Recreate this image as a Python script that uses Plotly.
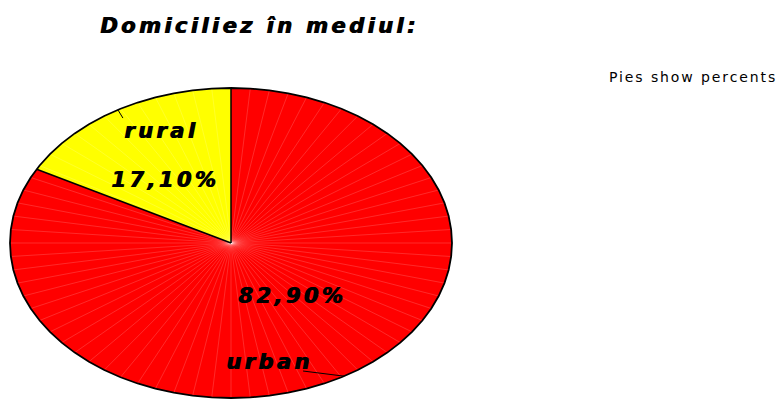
import numpy as np
import plotly.graph_objects as go

# Data
labels = ["rural", "urban"]
percents = [17.10, 82.90]
colors = ["#FFFF00", "#FF0000"]
value_texts = ["17,10%", "82,90%"]
title_text = "Domiciliez în mediul:"
note_text = "Pies show percents"

# Label anchor positions in unit-pie coordinates (name, value)
name_pos = [(-0.317, 0.723), (0.172, -0.768)]
value_pos = [(-0.299, 0.406), (0.276, -0.342)]
# Inner end of each leader line
leader_end = [(-0.489, 0.806), (0.326, -0.826)]

W, H = 778, 399
CX, CY = 231, 243          # pie centre in pixels
RX, RY = 221, 155          # pie radii in pixels (elliptical look)
STEP = 5.0                 # facet size of the pie outline, degrees
START = 90.0               # first slice starts at 12 o'clock, runs counter-clockwise


def pt(deg):
    r = np.radians(deg)
    return np.cos(r), np.sin(r)


def arc(a0, a1):
    grid = np.arange(np.ceil(a0 / STEP) * STEP, a1, STEP)
    angs = [a0] + [g for g in grid if a0 < g < a1] + [a1]
    return angs


fig = go.Figure()

# slice boundaries (degrees)
bounds = [START]
for p in percents:
    bounds.append(bounds[-1] + p / 100.0 * 360.0)

# filled slices
for i, lab in enumerate(labels):
    angs = arc(bounds[i], bounds[i + 1])
    xs = [0.0] + [pt(a)[0] for a in angs] + [0.0]
    ys = [0.0] + [pt(a)[1] for a in angs] + [0.0]
    fig.add_trace(go.Scatter(x=xs, y=ys, mode="lines", fill="toself",
                             fillcolor=colors[i], line=dict(width=0),
                             hoverinfo="skip", showlegend=False))

# faint radial shading lines
rx_, ry_ = [], []
for a in np.arange(START, START + 360, STEP):
    if any(abs(a - b) < 0.5 for b in bounds):
        continue
    x, y = pt(a)
    rx_ += [0, x, None]
    ry_ += [0, y, None]
fig.add_trace(go.Scatter(x=rx_, y=ry_, mode="lines",
                         line=dict(color="rgba(255,255,255,0.28)", width=0.6),
                         hoverinfo="skip", showlegend=False))

# slice separators
for b in bounds[:-1]:
    x, y = pt(b)
    fig.add_trace(go.Scatter(x=[0, x], y=[0, y], mode="lines",
                             line=dict(color="black", width=1.5),
                             hoverinfo="skip", showlegend=False))

# outline
oangs = []
for i in range(len(labels)):
    oangs += arc(bounds[i], bounds[i + 1])
fig.add_trace(go.Scatter(x=[pt(a)[0] for a in oangs], y=[pt(a)[1] for a in oangs],
                         mode="lines", line=dict(color="black", width=1.8),
                         hoverinfo="skip", showlegend=False))

# leader lines from the middle of each slice's rim toward its label
for i in range(len(labels)):
    mid = (bounds[i] + bounds[i + 1]) / 2
    x, y = pt(mid)
    fig.add_trace(go.Scatter(x=[x, leader_end[i][0]], y=[y, leader_end[i][1]],
                             mode="lines", line=dict(color="black", width=1),
                             hoverinfo="skip", showlegend=False))

heavy = "1px 0px 0px black"
lab_font = dict(family="DejaVu Sans", size=21, color="black", weight="bold",
                style="italic", shadow=heavy)


def spaced(t, px):
    return f"<span style='letter-spacing:{px}px'>{t}</span>"


for i, lab in enumerate(labels):
    fig.add_annotation(x=name_pos[i][0], y=name_pos[i][1], text=spaced(lab, 3.4),
                       showarrow=False, font=lab_font, xanchor="center", yanchor="middle")
    fig.add_annotation(x=value_pos[i][0], y=value_pos[i][1], text=spaced(value_texts[i], 3.4),
                       showarrow=False, font=lab_font, xanchor="center", yanchor="middle")

fig.add_annotation(x=259 / W, y=1 - 26 / H, xref="paper", yref="paper",
                   text=spaced(title_text, 3.4), showarrow=False,
                   font=dict(family="DejaVu Sans", size=21, color="black",
                             weight="bold", style="italic", shadow=heavy),
                   xanchor="center", yanchor="middle")
fig.add_annotation(x=607 / W, y=1 - 77 / H, xref="paper", yref="paper",
                   text=spaced(note_text, 1.9), showarrow=False,
                   font=dict(family="DejaVu Sans", size=14, color="black"),
                   xanchor="left", yanchor="middle")

fig.update_xaxes(range=[-CX / RX, (W - CX) / RX], visible=False, fixedrange=True)
fig.update_yaxes(range=[-(H - CY) / RY, CY / RY], visible=False, fixedrange=True)
fig.update_layout(width=W, height=H, margin=dict(l=0, r=0, t=0, b=0),
                  paper_bgcolor="white", plot_bgcolor="white", showlegend=False)

fig.write_html("out.html")
